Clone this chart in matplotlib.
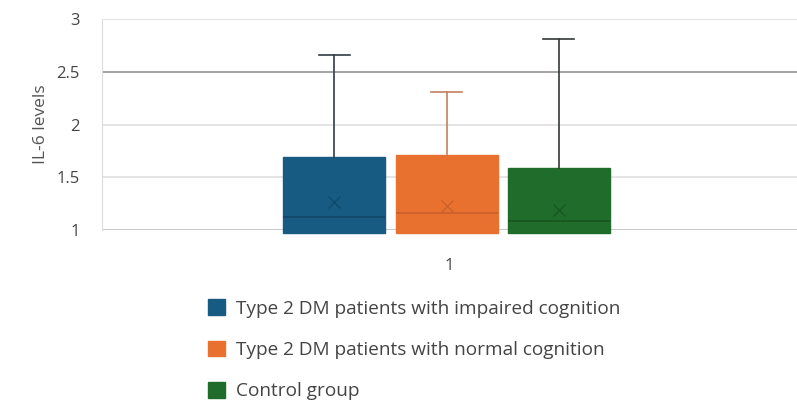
import matplotlib.pyplot as plt
from matplotlib.patches import Patch

plt.rcParams["font.family"] = ["Open Sans", "DejaVu Sans"]

groups = [
    "Type 2 DM patients with impaired cognition",
    "Type 2 DM patients with normal cognition",
    "Control group",
]
q1 = [0.97, 0.97, 0.97]
medians = [1.12, 1.16, 1.09]
q3 = [1.69, 1.71, 1.59]
whisker_hi = [2.66, 2.31, 2.81]
means = [1.27, 1.23, 1.19]

box_colors = ["#175b82", "#e8712f", "#1f6c2b"]
line_colors = ["#11476a", "#c9602a", "#17561f"]
whisker_colors = ["#2e3d48", "#c4825e", "#333a35"]

fig = plt.figure(figsize=(7.97, 4.03), dpi=100)
ax = fig.add_axes([0.128, 0.429, 0.872, 0.524])

positions = [0.996 - 0.162, 0.996, 0.996 + 0.161]
for i, pos in enumerate(positions):
    stats = [{
        "med": medians[i], "q1": q1[i], "q3": q3[i],
        "whislo": q1[i], "whishi": whisker_hi[i], "mean": means[i],
    }]
    parts = ax.bxp(
        stats, positions=[pos], widths=0.147, patch_artist=True,
        showmeans=True, showfliers=False, manage_ticks=False,
        boxprops=dict(facecolor=box_colors[i], edgecolor=box_colors[i], linewidth=1),
        medianprops=dict(color=line_colors[i], linewidth=1.2),
        meanprops=dict(marker="x", markeredgecolor=line_colors[i], markersize=9, markeredgewidth=0.9),
        whiskerprops=dict(color=whisker_colors[i], linewidth=1.2),
        capprops=dict(color=whisker_colors[i], linewidth=1.2),
        capwidths=0.045,
    )
    for box in parts["boxes"]:
        box.set_clip_on(False)

ax.set_xlim(0.5, 1.5)
ax.set_ylim(1, 3)
ax.set_yticks([1, 1.5, 2, 2.5, 3])
ax.set_yticklabels(["1", "1.5", "2", "2.5", "3"])
ax.set_xticks([1])
ax.set_xticklabels(["1"])
ax.tick_params(length=0, labelsize=12, labelcolor="#444444")
ax.tick_params(axis="y", pad=16)
ax.tick_params(axis="x", pad=20)

grid_colors = {1: "#b8b8b8", 1.5: "#dcdcdc", 2: "#dcdcdc", 2.5: "#8c8c8c", 3: "#dcdcdc"}
for y, c in grid_colors.items():
    ax.axhline(y, color=c, linewidth=1.1, zorder=0)

for side in ["top", "right", "bottom"]:
    ax.spines[side].set_visible(False)
ax.spines["left"].set_color("#dcdcdc")

ax.set_ylabel("IL-6 levels", fontsize=12.5, color="#555555", labelpad=5)

handles = [Patch(facecolor=c, edgecolor=c, label=g) for c, g in zip(box_colors, groups)]
fig.legend(
    handles=handles, loc="upper left", bbox_to_anchor=(0.239, 0.3),
    frameon=False, fontsize=13.7, labelcolor="#444444",
    handlelength=0.9, handleheight=0.9, handletextpad=0.6, labelspacing=1.2,
)

fig.savefig("out.png", dpi=100)
